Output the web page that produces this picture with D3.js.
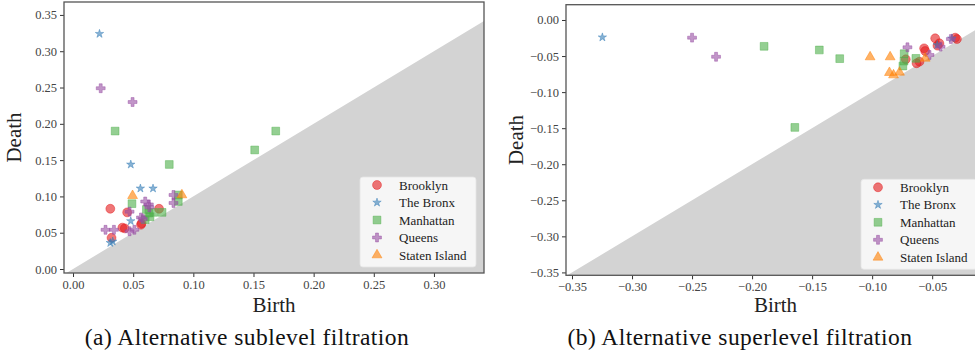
<!DOCTYPE html>
<html>
<head>
<meta charset="utf-8">
<script src="https://cdn.jsdelivr.net/npm/d3@7"></script>
<style>
  body { margin: 0; background: #fff; }
  svg { display: block; }
  svg text { font-family: "Liberation Serif", serif; }
</style>
</head>
<body>
<svg width="975" height="356"></svg>
<script>
// boroughs and their legend order
const boroughs = ['Brooklyn', 'The Bronx', 'Manhattan', 'Queens', 'Staten Island'];
const colors = ['#e41a1c', '#377eb8', '#4daf4a', '#984ea3', '#ff7f00'];
const shapes = [d3.symbolCircle, d3.symbolStar, d3.symbolSquare, d3.symbolCross, d3.symbolTriangle];
const shapeSizes = [62, 22, 60, 44, 42];

// (a) sublevel filtration: [birth, death]
const subBrooklyn = [[0.031, 0.083], [0.045, 0.078], [0.041, 0.057], [0.043, 0.056],
  [0.032, 0.043], [0.057, 0.063], [0.0565, 0.061], [0.0715, 0.083]];
const subBronx = [[0.022, 0.324], [0.048, 0.144], [0.056, 0.111], [0.0665, 0.111],
  [0.048, 0.066], [0.031, 0.036], [0.033, 0.038]];
const subManhattan = [[0.035, 0.190], [0.080, 0.144], [0.1685, 0.190], [0.151, 0.164],
  [0.049, 0.090], [0.061, 0.082], [0.063, 0.077], [0.067, 0.078], [0.074, 0.078],
  [0.060, 0.068], [0.0875, 0.102], [0.0875, 0.093], [0.064, 0.072]];
const subQueens = [[0.023, 0.249], [0.0495, 0.230], [0.047, 0.079], [0.027, 0.054],
  [0.034, 0.054], [0.047, 0.052], [0.051, 0.054], [0.060, 0.093], [0.063, 0.089],
  [0.0635, 0.085], [0.058, 0.069], [0.0565, 0.071], [0.0835, 0.102], [0.0835, 0.091]];
const subStaten = [[0.0495, 0.101], [0.0905, 0.102]];

// (b) superlevel filtration: [birth, death]
const supBrooklyn = [[-0.072, -0.0545], [-0.0606, -0.0578], [-0.0567, -0.0393], [-0.0558, -0.043],
  [-0.0475, -0.0254], [-0.0456, -0.0356], [-0.044, -0.0323], [-0.0308, -0.0245],
  [-0.0294, -0.0264], [-0.063, -0.060]];
const supBronx = [[-0.3247, -0.024], [-0.0458, -0.0347], [-0.0336, -0.0254]];
const supManhattan = [[-0.190, -0.0365], [-0.144, -0.0416], [-0.127, -0.0536], [-0.1644, -0.149],
  [-0.0733, -0.0467], [-0.0744, -0.0638], [-0.0735, -0.057], [-0.0636, -0.0532]];
const supQueens = [[-0.250, -0.0245], [-0.230, -0.051], [-0.0706, -0.0379], [-0.0522, -0.0485],
  [-0.043, -0.037], [-0.0344, -0.0264]];
const supStaten = [[-0.1017, -0.0513], [-0.085, -0.0513], [-0.0856, -0.073], [-0.0822, -0.0763],
  [-0.0772, -0.0726], [-0.0558, -0.0532]];

const subTicksX = [0, 0.05, 0.10, 0.15, 0.20, 0.25, 0.30];
const subTicksY = [0, 0.05, 0.10, 0.15, 0.20, 0.25, 0.30, 0.35];
const supTicksX = [-0.35, -0.30, -0.25, -0.20, -0.15, -0.10, -0.05];
const supTicksY = [-0.35, -0.30, -0.25, -0.20, -0.15, -0.10, -0.05, 0];

const captions = ['(a) Alternative sublevel filtration', '(b) Alternative superlevel filtration'];

const svg = d3.select('svg');
const serif = '"Liberation Serif", serif';
const fmt = d => d3.format('.2f')(d).replace('-', '\u2212');

const panel = (opt) => {
  const { box, xDomain, yDomain, xTicks, yTicks, series, caption, id } = opt;
  const x = d3.scaleLinear().domain(xDomain).range([box.left, box.right]);
  const y = d3.scaleLinear().domain(yDomain).range([box.bottom, box.top]);
  const g = svg.append('g');

  g.append('clipPath').attr('id', id)
    .append('rect')
      .attr('x', box.left).attr('y', box.top)
      .attr('width', box.right - box.left).attr('height', box.bottom - box.top);

  // grey region under the diagonal
  const lo = xDomain[0], hi = xDomain[1];
  g.append('path')
    .attr('clip-path', `url(#${id})`)
    .attr('fill', '#d3d3d3')
    .attr('d', d3.line()([[x(lo), y(lo)], [x(hi), y(hi)], [x(hi), y(yDomain[0])], [x(lo), y(yDomain[0])]]));

  // points
  series.forEach((pts, i) => {
    g.append('g').attr('clip-path', `url(#${id})`)
      .selectAll('path').data(pts)
      .enter().append('path')
        .attr('transform', d => `translate(${x(d[0])},${y(d[1])})`)
        .attr('d', d3.symbol(shapes[i], shapeSizes[i]))
        .attr('fill', colors[i]).attr('fill-opacity', 0.6)
        .attr('stroke', colors[i]).attr('stroke-opacity', 0.55).attr('stroke-width', 0.8);
  });

  // axes
  const xAxis = g.append('g')
    .attr('transform', `translate(0,${box.bottom})`)
    .call(d3.axisBottom(x).tickValues(xTicks).tickFormat(fmt).tickSize(4).tickPadding(3));
  const yAxis = g.append('g')
    .attr('transform', `translate(${box.left},0)`)
    .call(d3.axisLeft(y).tickValues(yTicks).tickFormat(fmt).tickSize(4).tickPadding(3));
  [xAxis, yAxis].forEach(a => {
    a.attr('font-family', serif).attr('font-size', 12.5);
    a.selectAll('.domain').remove();
    a.selectAll('line').attr('stroke', '#333').attr('stroke-width', 1);
    a.selectAll('text').attr('fill', '#444').attr('font-family', serif);
  });

  // spines
  g.append('rect')
    .attr('x', box.left).attr('y', box.top)
    .attr('width', box.right - box.left).attr('height', box.bottom - box.top)
    .attr('fill', 'none').attr('stroke', '#555').attr('stroke-width', 1.3);

  // legend
  const lg = g.append('g').attr('transform', `translate(${box.right - 124},${box.bottom - 96})`);
  lg.append('rect')
    .attr('width', 116).attr('height', 90).attr('rx', 3)
    .attr('fill', '#fff').attr('fill-opacity', 0.8)
    .attr('stroke', '#e6e6e6').attr('stroke-width', 0.8);
  boroughs.forEach((b, i) => {
    const row = lg.append('g').attr('transform', `translate(0,${8 + i * 17.5})`);
    row.append('path')
      .attr('transform', 'translate(17,0)')
      .attr('d', d3.symbol(shapes[i], shapeSizes[i]))
      .attr('fill', colors[i]).attr('fill-opacity', 0.6)
      .attr('stroke', colors[i]).attr('stroke-opacity', 0.55).attr('stroke-width', 0.8);
    row.append('text')
      .attr('x', 39).attr('y', 4.5)
      .attr('fill', '#222').attr('font-family', serif).attr('font-size', 13)
      .text(b);
  });

  // labels
  const cx = (box.left + box.right) / 2;
  g.append('text')
    .attr('x', cx).attr('y', 312)
    .attr('text-anchor', 'middle').attr('fill', '#222')
    .attr('font-size', 21)
    .text('Birth');
  g.append('text')
    .attr('transform', `translate(${box.left - 43},${(box.top + box.bottom) / 2}) rotate(-90)`)
    .attr('text-anchor', 'middle').attr('fill', '#222')
    .attr('font-size', 21)
    .text('Death');
  g.append('text')
    .attr('x', opt.captionX).attr('y', 345)
    .attr('text-anchor', 'middle').attr('fill', '#111')
    .attr('font-size', 23.5).attr('letter-spacing', 0.45)
    .text(caption);
};

panel({
  id: 'clipA',
  box: { left: 64, right: 484, top: 2, bottom: 273 },
  xDomain: [-0.0075, 0.3416],
  yDomain: [-0.0055, 0.3678],
  xTicks: subTicksX, yTicks: subTicksY,
  series: [subBrooklyn, subBronx, subManhattan, subQueens, subStaten],
  caption: captions[0], captionX: 247
});

panel({
  id: 'clipB',
  box: { left: 566, right: 985, top: 4.7, bottom: 275.3 },
  xDomain: [-0.355, -0.006],
  yDomain: [-0.354, 0.0212],
  xTicks: supTicksX, yTicks: supTicksY,
  series: [supBrooklyn, supBronx, supManhattan, supQueens, supStaten],
  caption: captions[1], captionX: 740
});
</script>
</body>
</html>
